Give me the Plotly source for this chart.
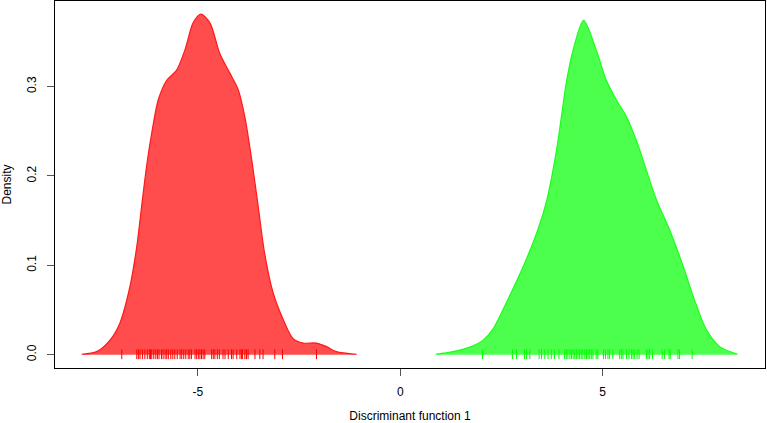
import plotly.graph_objects as go

# Density curve of group 1 (red)
red_x = [-7.87, -7.50, -7.17, -6.93, -6.68, -6.51, -6.39, -6.27, -6.14, -5.98, -5.77, -5.53,
         -5.32, -5.12, -4.93, -4.70, -4.46, -4.21, -4.00, -3.84, -3.67, -3.51, -3.35, -3.14,
         -2.89, -2.65, -2.40, -2.07, -1.82, -1.58, -1.08]
red_y = [0.0005, 0.0034, 0.0164, 0.035, 0.076, 0.121, 0.166, 0.210, 0.248, 0.285, 0.307, 0.318,
         0.341, 0.371, 0.381, 0.371, 0.337, 0.315, 0.296, 0.266, 0.218, 0.166, 0.113, 0.069,
         0.039, 0.018, 0.013, 0.013, 0.009, 0.0034, 0.0005]

# Density curve of group 2 (green)
green_x = [0.88, 1.30, 1.75, 2.04, 2.28, 2.65, 3.05, 3.40, 3.62, 3.86, 3.98, 4.10, 4.27, 4.53,
           4.84, 5.09, 5.34, 5.59, 5.83, 6.33, 6.65, 6.98, 7.27, 7.56, 7.89, 8.33]
green_y = [0.0005, 0.0034, 0.009, 0.016, 0.028, 0.061, 0.100, 0.140, 0.173, 0.229, 0.266, 0.304,
           0.341, 0.374, 0.341, 0.307, 0.285, 0.266, 0.240, 0.173, 0.140, 0.100, 0.061, 0.028,
           0.009, 0.0005]

# Rug (observations)
red_rug = [-6.88, -6.51, -6.47, -6.43, -6.37, -6.31, -6.25, -6.20, -6.17, -6.14, -6.09, -6.04,
           -6.00, -5.96, -5.90, -5.86, -5.81, -5.77, -5.73, -5.67, -5.62, -5.57, -5.51, -5.44,
           -5.40, -5.35, -5.30, -5.24, -5.20, -5.16, -5.07, -5.03, -4.99, -4.95, -4.91, -4.87,
           -4.83, -4.66, -4.62, -4.58, -4.52, -4.47, -4.38, -4.33, -4.25, -4.17, -4.13, -4.04,
           -3.96, -3.92, -3.90, -3.84, -3.80, -3.76, -3.59, -3.47, -3.39, -3.10, -2.91, -2.07]
green_rug = [2.03, 2.77, 2.87, 3.07, 3.12, 3.20, 3.43, 3.49, 3.57, 3.65, 3.73, 3.81, 3.92, 4.06,
             4.10, 4.14, 4.19, 4.23, 4.27, 4.31, 4.35, 4.39, 4.43, 4.47, 4.51, 4.56, 4.60, 4.64,
             4.68, 4.72, 4.76, 4.84, 4.88, 5.02, 5.07, 5.13, 5.17, 5.25, 5.42, 5.46, 5.50, 5.59,
             5.65, 5.71, 5.75, 5.79, 5.85, 5.90, 6.08, 6.12, 6.16, 6.23, 6.47, 6.53, 6.64, 6.67,
             6.86, 6.90, 7.21]

x_ticks = [-5, 0, 5]
y_ticks = [0.0, 0.1, 0.2, 0.3]
y_tick_labels = ["0.0", "0.1", "0.2", "0.3"]

RUG_LO, RUG_HI = -0.005, 0.006


def rug_xy(vals):
    xs, ys = [], []
    for v in vals:
        xs += [v, v, None]
        ys += [RUG_LO, RUG_HI, None]
    return xs, ys


fig = go.Figure()
for xs, ys, fillc, linec in [(red_x, red_y, "rgba(255,0,0,0.7)", "#ff1a1a"),
                             (green_x, green_y, "rgba(0,255,0,0.7)", "#1aff1a")]:
    fig.add_trace(go.Scatter(x=xs, y=ys, mode="lines", fill="tozeroy", fillcolor=fillc,
                             line=dict(color=linec, width=1.2, shape="spline", smoothing=0.8),
                             showlegend=False, hoverinfo="skip"))

for vals, c in [(red_rug, "#ff0000"), (green_rug, "#00ff00")]:
    rx, ry = rug_xy(vals)
    fig.add_trace(go.Scatter(x=rx, y=ry, mode="lines", line=dict(color=c, width=1),
                             showlegend=False, hoverinfo="skip"))

font = dict(family="Liberation Sans, Arial, sans-serif", size=12, color="black")
fig.update_layout(
    width=767, height=423,
    margin=dict(l=55, r=2, t=1, b=55),
    paper_bgcolor="white", plot_bgcolor="white",
    font=font,
    xaxis=dict(range=[-8.53, 9.01], tickvals=x_ticks, ticktext=[str(v) for v in x_ticks],
               showgrid=False, zeroline=False, showline=True, linecolor="black", linewidth=1,
               mirror=True, ticks="outside", ticklen=7, tickcolor="#555", tickfont=font,
               ticklabelstandoff=6, automargin=False,
               title=dict(text="Discriminant function 1", font=font, standoff=16)),
    yaxis=dict(range=[-0.0149, 0.3957], tickvals=y_ticks, ticktext=y_tick_labels,
               tickangle=-90, showgrid=False, zeroline=False, showline=True,
               linecolor="black", linewidth=1, mirror=True, ticks="outside", ticklen=7,
               tickcolor="#555", tickfont=font, ticklabelstandoff=6, automargin=False,
               title=dict(text="Density", font=font, standoff=14)),
)

fig.write_html("out.html", config={"displayModeBar": False},
               post_script="document.body.style.margin='0';document.body.style.padding='0';")
